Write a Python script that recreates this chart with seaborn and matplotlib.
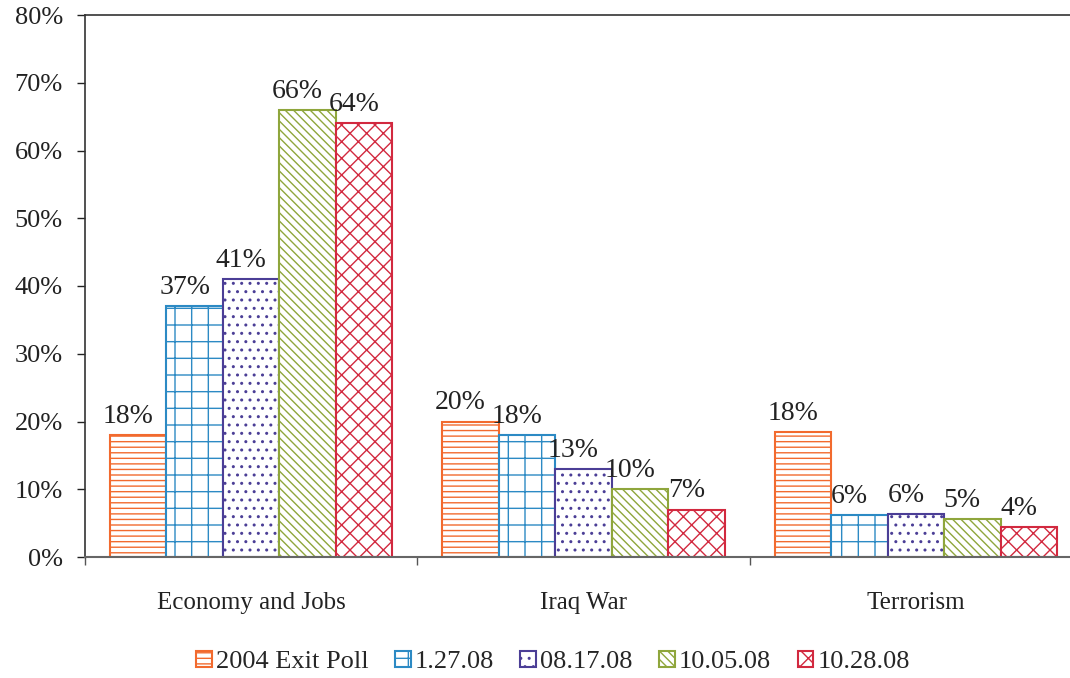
import numpy as np
import pandas as pd
import matplotlib
matplotlib.use('Agg')
import matplotlib.pyplot as plt
from matplotlib.patches import Patch
from matplotlib.ticker import FixedLocator, PercentFormatter
import seaborn as sns

categories = ["Economy and Jobs", "Iraq War", "Terrorism"]
series = ["2004 Exit Poll", "1.27.08", "08.17.08", "10.05.08", "10.28.08"]
economy = [18, 37, 41, 66, 64]
iraq = [20, 18, 13, 10, 7]
terrorism = [18.4, 6.2, 6.3, 5.6, 4.4]
labels_econ = ["18%", "37%", "41%", "66%", "64%"]
labels_iraq = ["20%", "18%", "13%", "10%", "7%"]
labels_terr = ["18%", "6%", "6%", "5%", "4%"]

colors = ["#F26A2E", "#2C8AC4", "#4B3E96", "#8FA63C", "#D2293F"]
hatches = ["---", "+", "..", "\\\\\\\\", "xx"]

rows = []
for cat, vals in zip(categories, [economy, iraq, terrorism]):
    for s, v in zip(series, vals):
        rows.append({"category": cat, "series": s, "value": v})
df = pd.DataFrame(rows)

sns.set_theme(style="white")
plt.rcParams['font.family'] = ['Liberation Serif', 'DejaVu Serif']
plt.rcParams['hatch.linewidth'] = 1.0

fig = plt.figure(figsize=(10.7, 6.78), dpi=100)
ax = fig.add_axes([85 / 1070, 1 - 557 / 678, 997 / 1070, 542 / 678])

sns.barplot(data=df, x="category", y="value", hue="series", hue_order=series,
            order=categories, palette=colors, width=0.85, gap=0, ax=ax,
            legend=False, saturation=1)

all_labels = [labels_econ, labels_iraq, labels_terr]
for i, cont in enumerate(ax.containers):
    for j, bar in enumerate(cont):
        bar.set_facecolor("white")
        bar.set_edgecolor(colors[i])
        bar.set_hatch(hatches[i])
        bar.set_linewidth(1.5)
        ax.text(bar.get_x() + bar.get_width() / 2 - 0.03, bar.get_height() + 0.9,
                all_labels[j][i], ha="center", va="bottom", fontsize=20, color="#222222")

ax.set_xlim(-0.5, 2.5)
ax.set_ylim(0, 80)
ax.yaxis.set_major_locator(FixedLocator(np.arange(0, 81, 10)))
ax.yaxis.set_major_formatter(PercentFormatter(decimals=0))
ax.tick_params(axis="y", labelsize=19, length=6, width=1, left=True, colors="#222222", pad=10)
ax.tick_params(axis="x", labelsize=18, length=0, pad=25, colors="#222222")
ax.xaxis.set_minor_locator(FixedLocator([-0.5, 0.5, 1.5, 2.5]))
ax.tick_params(axis="x", which="minor", bottom=True, length=6, width=1, color="#555555")
ax.set_xlabel("")
ax.set_ylabel("")

for side in ["left", "top"]:
    ax.spines[side].set_color("#333333")
    ax.spines[side].set_linewidth(1.2)
ax.spines["bottom"].set_color("#666666")
ax.spines["bottom"].set_linewidth(1.5)
ax.spines["right"].set_visible(False)

handles = [Patch(facecolor="white", edgecolor=c, hatch=h, linewidth=1.5, label=s)
           for c, h, s in zip(colors, hatches, series)]
fig.legend(handles=handles, loc="center", bbox_to_anchor=(553 / 1070, 1 - 662 / 678),
           ncol=5, frameon=False, fontsize=19, handlelength=0.6, handleheight=0.6,
           handletextpad=0.15, columnspacing=1.0)

fig.savefig("out.png", dpi=100)
